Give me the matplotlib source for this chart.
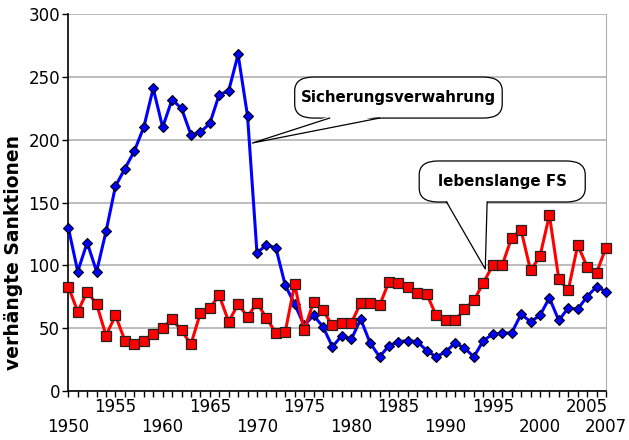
import matplotlib.pyplot as plt
from matplotlib.patches import FancyBboxPatch, Polygon
from matplotlib.ticker import FixedLocator, FuncFormatter

years = list(range(1950, 2008))

# Sicherungsverwahrung (blue)
sv = [130, 95, 118, 95, 127, 163, 177, 191, 210, 241,
      210, 232, 225, 204, 206, 213, 236, 239, 268, 219,
      110, 116, 114, 84, 69, 52, 60, 51, 35, 44,
      41, 57, 38, 27, 36, 39, 40, 39, 32, 27,
      31, 38, 34, 27, 40, 45, 46, 46, 61, 55,
      60, 74, 56, 66, 65, 75, 83, 79]

# lebenslange Freiheitsstrafe (red)
lfs = [83, 63, 79, 69, 44, 60, 40, 37, 40, 45,
       50, 57, 48, 37, 62, 66, 76, 55, 69, 59,
       70, 58, 46, 47, 85, 48, 71, 64, 52, 54,
       54, 70, 70, 68, 87, 86, 83, 78, 77, 60,
       56, 56, 65, 72, 86, 100, 100, 122, 128, 96,
       107, 140, 89, 80, 116, 99, 94, 114]

yticks = [0, 50, 100, 150, 200, 250, 300]
upper_labels = [1955, 1965, 1975, 1985, 1995, 2005]
lower_labels = [1950, 1960, 1970, 1980, 1990, 2000, 2007]

fig = plt.figure(figsize=(6.29, 4.40), dpi=100)
ax = fig.add_axes([0.1086, 0.112, 0.8548, 0.8555])

ax.plot(years, sv, color='#0000ff', lw=2.2, marker='D', ms=5,
        mfc='#0000ff', mec='black', mew=0.8, zorder=3, clip_on=False)
ax.plot(years, lfs, color='#ff0000', lw=2.2, marker='s', ms=6.5,
        mfc='#ff0000', mec='#222222', mew=0.9, zorder=3, clip_on=False)

ax.set_xlim(1950, 2007)
ax.set_ylim(0, 300)
ax.set_yticks(yticks)
ax.yaxis.grid(True, color='#b0b0b0', lw=1.2)
ax.set_axisbelow(True)

# two rows of year labels: upper row on major ticks, lower row on minor ticks
ax.xaxis.set_major_locator(FixedLocator(upper_labels))
ax.xaxis.set_major_formatter(FuncFormatter(lambda v, p: str(int(round(v)))))
ax.xaxis.set_minor_locator(FixedLocator(years))
ax.xaxis.set_minor_formatter(FuncFormatter(
    lambda v, p: str(int(round(v))) if int(round(v)) in lower_labels else ''))
ax.tick_params(axis='x', which='major', direction='out', length=4, width=1,
               labelsize=12, pad=1)
ax.tick_params(axis='x', which='minor', direction='out', length=4, width=1,
               labelsize=12, pad=16)
ax.tick_params(axis='y', direction='out', length=4, width=1, labelsize=12, pad=2)

ax.spines['left'].set_color('black')
ax.spines['bottom'].set_color('black')
ax.spines['left'].set_linewidth(1.2)
ax.spines['bottom'].set_linewidth(1.2)
ax.spines['right'].set_color('#b0b0b0')
ax.spines['top'].set_visible(False)

ax.set_ylabel('verhängte Sanktionen', fontsize=13.5, fontweight='bold')
ax.yaxis.set_label_coords(-0.084, 0.368)


def callout(text, x0, x1, y0, y1, b0, b1, tip):
    box = FancyBboxPatch((x0, y0), x1 - x0, y1 - y0,
                         boxstyle='round,pad=0,rounding_size=2.0',
                         mutation_aspect=5.5,
                         fc='white', ec='black', lw=0.9, zorder=5)
    ax.add_patch(box)
    tail = Polygon([(b0, y0 + 1.5), tip, (b1, y0 + 1.5)], closed=True,
                   fc='white', ec='none', zorder=6)
    ax.add_patch(tail)
    ax.plot([b0, tip[0], b1], [y0, tip[1], y0], color='black', lw=0.9, zorder=6)
    ax.text((x0 + x1) / 2, (y0 + y1) / 2, text, ha='center', va='center',
            fontsize=10.8, fontweight='bold', zorder=7)


callout('Sicherungsverwahrung', 1974.0, 1996.0, 217.3, 250.0,
        1977.7, 1983.0, (1969.5, 197.4))
callout('lebenslange FS', 1987.2, 2004.8, 150.4, 183.1,
        1990.1, 1994.4, (1994.2, 97.0))

fig.savefig('out.png', dpi=100)
